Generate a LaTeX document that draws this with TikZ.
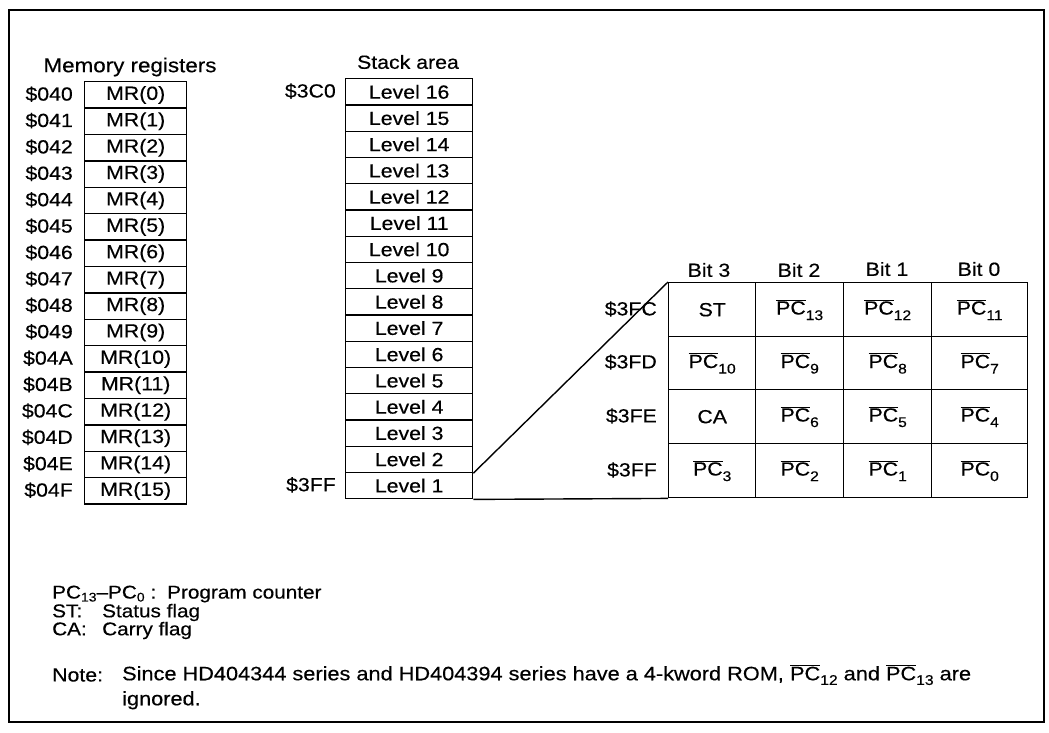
\documentclass[tikz,border=0pt]{standalone}
\usepackage{fontspec}
\setmainfont{Liberation Sans}[FakeStretch=1.12,FakeBold=0.4]
\newcommand\pcb[1]{$\overline{\mbox{PC}}$\raisebox{-0.55ex}{\fontsize{14}{14}\selectfont #1}}
\newcommand\pcn[1]{$\overline{\mbox{PC}}$\raisebox{-0.45ex}{\fontsize{14}{14}\selectfont #1}}
\newcommand\pcs[1]{PC\raisebox{-0.3ex}{\fontsize{12.5}{12.5}\selectfont #1}}
\begin{document}
\begin{tikzpicture}[x=1pt,y=-1pt,
  every node/.style={font=\fontsize{19}{22}\selectfont, inner sep=0pt},
  cell/.style={draw, line width=1.4pt, anchor=north west},
  addr/.style={anchor=east},
  txt/.style={anchor=west},
  legend/.style={anchor=west, font=\fontsize{18.5}{20}\selectfont}]
\useasboundingbox (0,0) rectangle (1049,732);
\draw[line width=1.6pt] (9,10) rectangle (1044,722);
% memory registers
\node[font=\fontsize{20}{22}\selectfont] (memtitle) at (130,67) {Memory registers};
\foreach \i/\a in {0/040,1/041,2/042,3/043,4/044,5/045,6/046,7/047,8/048,9/049,10/04A,11/04B,12/04C,13/04D,14/04E,15/04F}{
  \node[cell, minimum width=102pt, minimum height=26.4pt] (mr\i) at (84,{81+26.4*\i}) {MR(\i)};
  \node[addr] (ma\i) at (73,{81+26.4*\i+13.2}) {\$\a};
}
% stack area
\node (stacktitle) at (408,62) {Stack area};
\foreach \i in {0,...,15}{
  \pgfmathtruncatemacro\lv{16-\i}
  \node[cell, minimum width=127pt, minimum height=26.25pt] (st\i) at (345,{78+26.25*\i}) {Level \lv};
}
\node[addr] (sa0) at (336,{78+13.1}) {\$3C0};
\node[addr] (sa15) at (336,{78+26.25*15+13.1}) {\$3FF};
% bit table
\foreach \c/\x/\w in {0/668/87,1/755/88,2/843/88,3/931/96}{
  \foreach \r/\y/\h in {0/282/54,1/336/53,2/389/54,3/443/54}{
    \node[cell, minimum width=\w pt, minimum height=\h pt] (c\r\c) at (\x,\y) {};
  }
}
\node (h0) at (709,270) {Bit 3};
\node (h1) at (799,270) {Bit 2};
\node (h2) at (887,269) {Bit 1};
\node (h3) at (979,269) {Bit 0};
\node[addr] (r0) at (657,309) {\$3FC};
\node[addr] (r1) at (657,362) {\$3FD};
\node[addr] (r2) at (657,416) {\$3FE};
\node[addr] (r3) at (657,470) {\$3FF};
\node at (c00) {ST};
\node at (c01) {\pcb{13}};
\node at (c02) {\pcb{12}};
\node at (c03) {\pcb{11}};
\node at (c10) {\pcb{10}};
\node at (c11) {\pcb{9}};
\node at (c12) {\pcb{8}};
\node at (c13) {\pcb{7}};
\node at (c20) {CA};
\node at (c21) {\pcb{6}};
\node at (c22) {\pcb{5}};
\node at (c23) {\pcb{4}};
\node at (c30) {\pcb{3}};
\node at (c31) {\pcb{2}};
\node at (c32) {\pcb{1}};
\node at (c33) {\pcb{0}};
% connectors
\draw[line width=1.4pt] (st14.south east) -- (c00.north west);
\draw[line width=1.4pt] (st15.south east) -- (c30.south west);
% legend
\node[legend] (lg1) at (52,594) {\makebox[115pt][l]{\pcs{13}--\pcs{0} :}Program counter};
\node[legend] (lg2) at (52,612.5) {\makebox[50pt][l]{ST:}Status flag};
\node[legend] (lg3) at (52,630.5) {\makebox[50pt][l]{CA:}Carry flag};
\node[txt] (nt) at (52,675) {Note:};
\node[txt, align=left, font={\fontsize{19.4}{24}\selectfont}] (nb) at (122,687) {Since HD404344 series and HD404394 series have a 4-kword ROM, \pcn{12} and \pcn{13} are\\[1pt] ignored.};
\end{tikzpicture}
\end{document}
